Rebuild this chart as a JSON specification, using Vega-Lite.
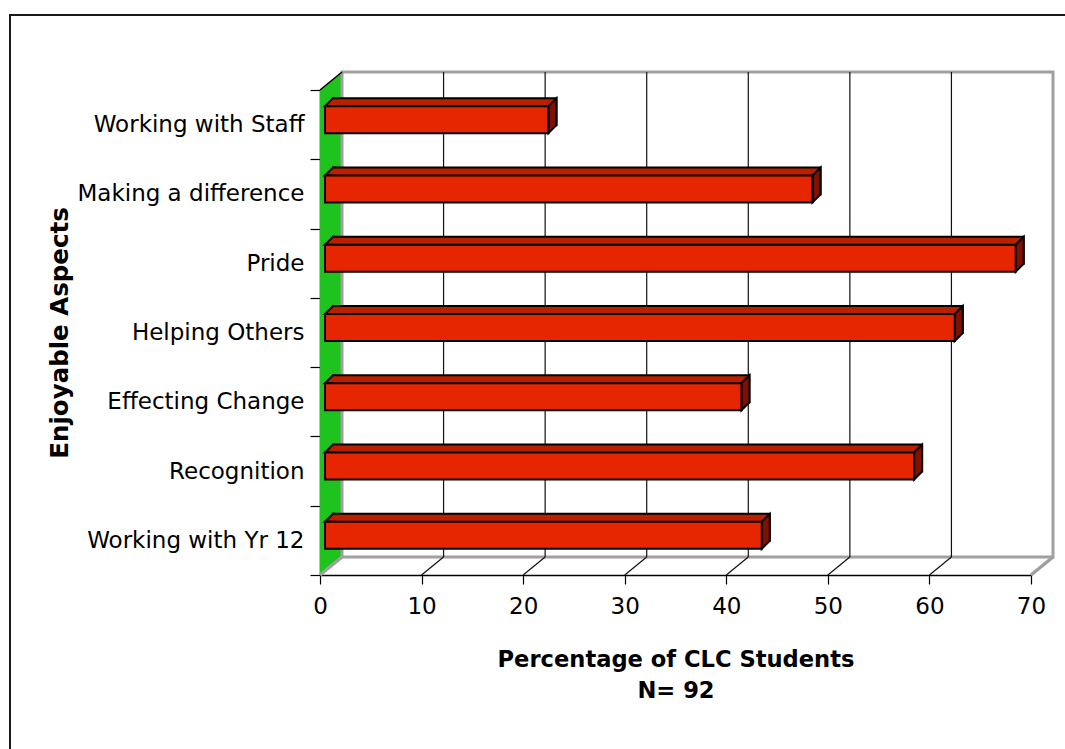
{
  "$schema": "https://vega.github.io/schema/vega-lite/v6.json",
  "width": 1060,
  "height": 740,
  "autosize": {"type": "none"},
  "padding": {"left": 10, "top": 15, "right": 0, "bottom": 0},
  "background": "white",
  "config": {
    "view": {"stroke": "#1a1a1a", "strokeWidth": 2},
    "font": "DejaVu Sans"
  },
  "datasets": {
    "aspects": [
      {"aspect": "Working with Staff", "pct": 22},
      {"aspect": "Making a difference", "pct": 48},
      {"aspect": "Pride", "pct": 68},
      {"aspect": "Helping Others", "pct": 62},
      {"aspect": "Effecting Change", "pct": 41},
      {"aspect": "Recognition", "pct": 58},
      {"aspect": "Working with Yr 12", "pct": 43}
    ],
    "ticks": [
      {"pct": 0}, {"pct": 10}, {"pct": 20}, {"pct": 30},
      {"pct": 40}, {"pct": 50}, {"pct": 60}, {"pct": 70}
    ],
    "one": [{}]
  },
  "data": {"name": "aspects"},
  "layer": [
    {
      "data": {"name": "one"},
      "mark": {
        "type": "point",
        "shape": "M0,0 L22,-18 L22,467 L0,485 Z",
        "size": 4,
        "filled": true,
        "fill": "#1ec31e",
        "opacity": 1,
        "strokeWidth": 0
      },
      "encoding": {
        "x": {
          "datum": 0,
          "type": "quantitative",
          "scale": {"domain": [0, 70], "range": [310, 1021], "nice": false, "zero": false},
          "axis": {
            "values": [0, 10, 20, 30, 40, 50, 60, 70],
            "offset": -180,
            "grid": false,
            "domainColor": "black",
            "domainWidth": 1.5,
            "tickColor": "black",
            "tickWidth": 1.2,
            "tickSize": 9,
            "labelFont": "DejaVu Sans",
            "labelFontSize": 23,
            "labelColor": "black",
            "labelPadding": 11,
            "labelFlush": false,
            "title": ["Percentage of CLC Students", "N= 92"],
            "titleFont": "DejaVu Sans",
            "titleFontSize": 22.6,
            "titleFontWeight": "bold",
            "titleColor": "black",
            "titlePadding": 30,
            "titleLineHeight": 31
          }
        },
        "y": {
          "datum": "Working with Staff",
          "type": "nominal",
          "bandPosition": 0,
          "scale": {
            "domain": ["Working with Staff", "Making a difference", "Pride", "Helping Others", "Effecting Change", "Recognition", "Working with Yr 12"],
            "range": [75, 560],
            "paddingInner": 0,
            "paddingOuter": 0
          },
          "axis": {
            "orient": "left",
            "offset": -310,
            "grid": false,
            "tickBand": "extent",
            "domainColor": "black",
            "domainWidth": 1.5,
            "tickColor": "black",
            "tickWidth": 1.2,
            "tickSize": 10,
            "labelFont": "DejaVu Sans",
            "labelFontSize": 23,
            "labelColor": "black",
            "labelPadding": 6,
            "labelLimit": 400,
            "title": "Enjoyable Aspects",
            "titleFont": "DejaVu Sans",
            "titleFontSize": 24.5,
            "titleFontWeight": "bold",
            "titleColor": "black",
            "titleX": -260,
            "titleBaseline": "middle"
          }
        }
      }
    },
    {
      "data": {"name": "one"},
      "mark": {
        "type": "rect",
        "fill": "white",
        "stroke": "#a0a0a0",
        "strokeWidth": 3,
        "xOffset": 22,
        "x2Offset": 22,
        "yOffset": -18,
        "y2Offset": -18
      },
      "encoding": {
        "x": {"datum": 0, "type": "quantitative"},
        "x2": {"datum": 70},
        "y": {"datum": "Working with Staff", "type": "nominal", "bandPosition": 0},
        "y2": {"datum": "Working with Yr 12", "bandPosition": 1}
      }
    },
    {
      "data": {"name": "ticks"},
      "transform": [{"filter": "datum.pct > 0 && datum.pct < 70"}],
      "mark": {"type": "rule", "color": "#111111", "strokeWidth": 1.2, "xOffset": 22, "yOffset": -18, "y2Offset": -18},
      "encoding": {
        "x": {"field": "pct", "type": "quantitative"},
        "y": {"datum": "Working with Staff", "type": "nominal", "bandPosition": 0},
        "y2": {"datum": "Working with Yr 12", "bandPosition": 1}
      }
    },
    {
      "data": {"name": "ticks"},
      "transform": [{"filter": "datum.pct > 0 && datum.pct < 70"}],
      "mark": {"type": "rule", "color": "#111111", "strokeWidth": 1.2, "x2Offset": 22, "y2Offset": -18},
      "encoding": {
        "x": {"field": "pct", "type": "quantitative"},
        "x2": {"field": "pct"},
        "y": {"datum": "Working with Yr 12", "type": "nominal", "bandPosition": 1},
        "y2": {"datum": "Working with Yr 12", "bandPosition": 1}
      }
    },
    {
      "data": {"name": "ticks"},
      "transform": [{"filter": "datum.pct == 0 || datum.pct == 70"}],
      "mark": {"type": "rule", "color": "#a0a0a0", "strokeWidth": 3.5, "x2Offset": 22, "y2Offset": -18},
      "encoding": {
        "x": {"field": "pct", "type": "quantitative"},
        "x2": {"field": "pct"},
        "y": {"datum": "Working with Yr 12", "type": "nominal", "bandPosition": 1},
        "y2": {"datum": "Working with Yr 12", "bandPosition": 1}
      }
    },
    {
      "data": {"name": "one"},
      "mark": {"type": "rule", "color": "black", "strokeWidth": 1.5, "x2Offset": 22, "y2Offset": -18},
      "encoding": {
        "x": {"datum": 0, "type": "quantitative"},
        "x2": {"datum": 0},
        "y": {"datum": "Working with Staff", "type": "nominal", "bandPosition": 0},
        "y2": {"datum": "Working with Staff", "bandPosition": 0}
      }
    },
    {
      "mark": {
        "type": "bar",
        "height": 27,
        "fill": "#b82000",
        "stroke": "black",
        "strokeWidth": 2,
        "xOffset": 13,
        "x2Offset": 13,
        "yOffset": -13,
        "y2Offset": -13
      },
      "encoding": {
        "x": {"field": "pct", "type": "quantitative", "stack": null},
        "x2": {"datum": 0},
        "y": {"field": "aspect", "type": "nominal"}
      }
    },
    {
      "mark": {
        "type": "point",
        "shape": "M5,-18.5 L13,-26.5 L13,0.5 L5,8.5 Z",
        "size": 4,
        "filled": true,
        "fill": "#821000",
        "stroke": "black",
        "strokeWidth": 2,
        "strokeJoin": "miter",
        "opacity": 1
      },
      "encoding": {
        "x": {"field": "pct", "type": "quantitative"},
        "y": {"field": "aspect", "type": "nominal"}
      }
    },
    {
      "mark": {
        "type": "point",
        "shape": "M15,-18.5 L5,-18.5 L13,-26.5 L15,-26.5",
        "size": 4,
        "filled": true,
        "fill": "#b82000",
        "stroke": "black",
        "strokeWidth": 2,
        "strokeJoin": "miter",
        "opacity": 1
      },
      "encoding": {
        "x": {"datum": 0, "type": "quantitative"},
        "y": {"field": "aspect", "type": "nominal"}
      }
    },
    {
      "mark": {
        "type": "bar",
        "height": 27,
        "fill": "#e52600",
        "stroke": "black",
        "strokeWidth": 2,
        "xOffset": 5,
        "x2Offset": 5,
        "yOffset": -5,
        "y2Offset": -5
      },
      "encoding": {
        "x": {"field": "pct", "type": "quantitative", "stack": null},
        "x2": {"datum": 0},
        "y": {"field": "aspect", "type": "nominal"}
      }
    }
  ]
}
